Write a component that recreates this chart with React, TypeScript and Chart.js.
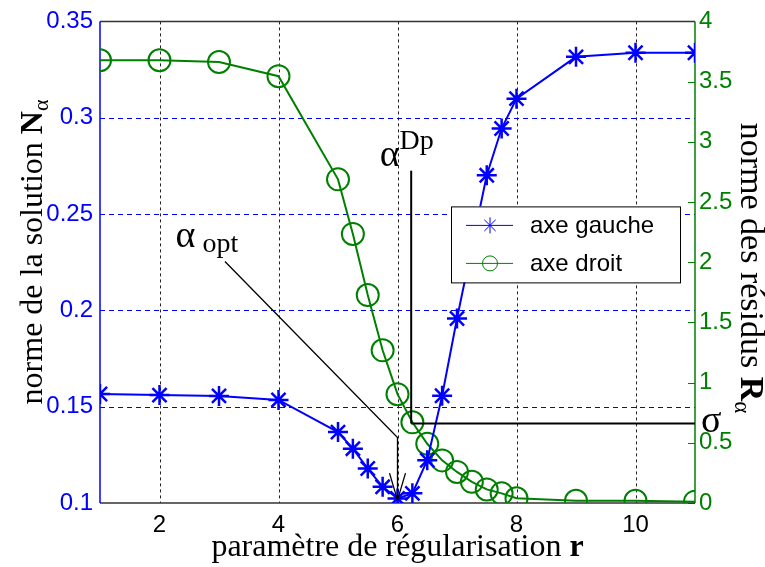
import React, { useEffect, useRef } from "react";
import { Chart, registerables } from "chart.js";

Chart.register(...registerables);

// ---- data ----
const R_LEFT = [1, 2, 3, 4, 5, 5.25, 5.5, 5.75, 6, 6.25, 6.5, 6.75, 7, 7.5, 7.75, 8, 9, 10, 11];
const N_ALPHA = [0.1566, 0.156, 0.1556, 0.1535, 0.1368, 0.1282, 0.1179, 0.1084, 0.1024, 0.105, 0.1222, 0.1557, 0.1958, 0.2701, 0.2944, 0.3099, 0.3316, 0.3337, 0.3337];
const R_RIGHT = [1, 2, 3, 4, 5, 5.25, 5.5, 5.75, 6, 6.25, 6.5, 6.75, 7, 7.25, 7.5, 7.75, 8, 9, 10, 11];
const R_RESID = [3.677, 3.677, 3.663, 3.545, 2.688, 2.235, 1.727, 1.268, 0.904, 0.67, 0.492, 0.354, 0.258, 0.176, 0.113, 0.08, 0.039, 0.019, 0.019, 0.011];

const X_TICKS = [2, 4, 6, 8, 10];
const LEFT_TICKS = [0.1, 0.15, 0.2, 0.25, 0.3, 0.35];
const RIGHT_TICKS = [0, 0.5, 1, 1.5, 2, 2.5, 3, 3.5, 4];

const LEGEND_LABELS = ["axe gauche", "axe droit"];

// annotations (data units)
const OPT_LABEL = { r: 2.27, n: 0.2331 };
const OPT_ARROW = [
  { r: 3.1, n: 0.2254 },
  { r: 6, n: 0.134 },
  { r: 6, n: 0.1015 },
];
const DP_LABEL = { r: 5.7, res: 2.8 };
const DP_R = 6.23;
const DP_TOP = 2.76;
const SIGMA = 0.66;

const BLUE = "#0000ff";
const GREEN = "#008000";
const SERIF = '"Liberation Serif", "Times New Roman", serif';
const SANS = '"Liberation Sans", Arial, sans-serif';

type Run = { t: string; font: string; dy?: number };

function drawRuns(ctx: CanvasRenderingContext2D, runs: Run[], x: number, y: number, align: "left" | "center") {
  let total = 0;
  const widths = runs.map((r) => {
    ctx.font = r.font;
    const w = ctx.measureText(r.t).width;
    total += w;
    return w;
  });
  let cx = align === "center" ? x - total / 2 : x;
  ctx.textAlign = "left";
  ctx.textBaseline = "alphabetic";
  runs.forEach((r, i) => {
    ctx.font = r.font;
    ctx.fillText(r.t, cx, y + (r.dy || 0));
    cx += widths[i];
  });
}

function line(ctx: CanvasRenderingContext2D, x1: number, y1: number, x2: number, y2: number) {
  ctx.beginPath();
  ctx.moveTo(x1, y1);
  ctx.lineTo(x2, y2);
  ctx.stroke();
}

const customDraw = {
  id: "customDraw",
  beforeDatasetsDraw(chart: any) {
    const { ctx, chartArea } = chart;
    const { left, right, top, bottom } = chartArea;
    const sx = chart.scales.x;
    const sl = chart.scales.y;
    const sr = chart.scales.y1;
    ctx.save();
    // vertical dotted grid
    ctx.strokeStyle = "#222";
    ctx.lineWidth = 1;
    ctx.setLineDash([3, 3]);
    X_TICKS.forEach((v) => {
      const px = Math.round(sx.getPixelForValue(v)) + 0.5;
      line(ctx, px, top, px, bottom);
    });
    // horizontal blue dashed grid (left axis)
    ctx.strokeStyle = BLUE;
    ctx.setLineDash([5, 4]);
    LEFT_TICKS.slice(1, -1).forEach((v) => {
      const py = Math.round(sl.getPixelForValue(v)) + 0.5;
      line(ctx, left, py, right, py);
    });
    ctx.setLineDash([]);
    // right axis inward ticks
    ctx.strokeStyle = GREEN;
    ctx.lineWidth = 1;
    RIGHT_TICKS.forEach((v) => {
      const py = Math.round(sr.getPixelForValue(v)) + 0.5;
      line(ctx, right - 7, py, right, py);
    });
    // box
    ctx.strokeStyle = "#333";
    ctx.lineWidth = 1.5;
    line(ctx, left, top, right, top);
    line(ctx, left, bottom, right, bottom);
    ctx.strokeStyle = BLUE;
    line(ctx, left, top, left, bottom);
    ctx.strokeStyle = GREEN;
    line(ctx, right, top, right, bottom);
    ctx.restore();
  },
  afterDatasetsDraw(chart: any) {
    const { ctx, chartArea } = chart;
    const { left, right, top } = chartArea;
    const sx = chart.scales.x;
    const sl = chart.scales.y;
    const sr = chart.scales.y1;
    ctx.save();
    ctx.fillStyle = "#000";
    ctx.strokeStyle = "#000";

    // alpha_opt arrow
    ctx.lineWidth = 1.3;
    const pts = OPT_ARROW.map((p) => [sx.getPixelForValue(p.r), sl.getPixelForValue(p.n)]);
    ctx.beginPath();
    ctx.moveTo(pts[0][0], pts[0][1]);
    pts.slice(1).forEach((p) => ctx.lineTo(p[0], p[1]));
    ctx.stroke();
    const tip = pts[pts.length - 1];
    line(ctx, tip[0] - 8, tip[1] - 27, tip[0], tip[1]);
    line(ctx, tip[0] + 8, tip[1] - 27, tip[0], tip[1]);

    drawRuns(
      ctx,
      [
        { t: "α", font: `38px ${SERIF}` },
        { t: " opt", font: `28px ${SERIF}`, dy: 5 },
      ],
      sx.getPixelForValue(OPT_LABEL.r),
      sl.getPixelForValue(OPT_LABEL.n),
      "left"
    );

    // alpha Dp / sigma lines
    ctx.lineWidth = 2;
    const dpx = sx.getPixelForValue(DP_R);
    const sy = sr.getPixelForValue(SIGMA);
    line(ctx, dpx, sr.getPixelForValue(DP_TOP), dpx, sy);
    line(ctx, dpx, sy, right, sy);

    drawRuns(
      ctx,
      [
        { t: "α", font: `38px ${SERIF}` },
        { t: "Dp", font: `28px ${SERIF}`, dy: -17 },
      ],
      sx.getPixelForValue(DP_LABEL.r),
      sr.getPixelForValue(DP_LABEL.res),
      "left"
    );

    // sigma label outside on the right axis
    drawRuns(ctx, [{ t: "σ", font: `38px ${SERIF}` }], right + 6, sy + 8, "left");

    // legend
    const lx0 = right - 244;
    const ly0 = top + 185;
    const lw = 229;
    const lh = 76;
    ctx.fillStyle = "#fff";
    ctx.fillRect(lx0, ly0, lw, lh);
    ctx.strokeStyle = "#000";
    ctx.lineWidth = 1;
    ctx.strokeRect(lx0 + 0.5, ly0 + 0.5, lw, lh);
    const rows = [ly0 + 19, ly0 + 57];
    const mx = lx0 + 39;
    ctx.strokeStyle = BLUE;
    ctx.lineWidth = 1;
    line(ctx, lx0 + 15, rows[0], lx0 + 62, rows[0]);
    const rs = 8;
    line(ctx, mx, rows[0] - rs, mx, rows[0] + rs);
    const d = rs * Math.SQRT1_2;
    line(ctx, mx - d, rows[0] - d, mx + d, rows[0] + d);
    line(ctx, mx - d, rows[0] + d, mx + d, rows[0] - d);
    ctx.strokeStyle = GREEN;
    line(ctx, lx0 + 15, rows[1], lx0 + 62, rows[1]);
    ctx.beginPath();
    ctx.arc(mx, rows[1], 7.5, 0, Math.PI * 2);
    ctx.stroke();
    ctx.fillStyle = "#000";
    ctx.font = `24px ${SANS}`;
    ctx.textBaseline = "middle";
    ctx.textAlign = "left";
    ctx.fillText(LEGEND_LABELS[0], lx0 + 79, rows[0] + 1);
    ctx.fillText(LEGEND_LABELS[1], lx0 + 79, rows[1] + 1);

    // axis titles
    ctx.fillStyle = "#000";
    drawRuns(
      ctx,
      [
        { t: "paramètre de régularisation ", font: `32px ${SERIF}` },
        { t: "r", font: `bold 32px ${SERIF}` },
      ],
      (left + right) / 2,
      556,
      "center"
    );
    ctx.save();
    ctx.translate(42, 252);
    ctx.rotate(-Math.PI / 2);
    drawRuns(
      ctx,
      [
        { t: "norme de la solution ", font: `32px ${SERIF}` },
        { t: "N", font: `bold 32px ${SERIF}` },
        { t: "α", font: `22px ${SERIF}`, dy: 6 },
      ],
      0,
      0,
      "center"
    );
    ctx.restore();
    ctx.save();
    ctx.translate(741, 268);
    ctx.rotate(Math.PI / 2);
    drawRuns(
      ctx,
      [
        { t: "norme des résidus ", font: `34px ${SERIF}` },
        { t: "R", font: `bold 34px ${SERIF}` },
        { t: "α", font: `23px ${SERIF}`, dy: 6 },
      ],
      0,
      0,
      "center"
    );
    ctx.restore();

    ctx.restore();
  },
};

function fmt(v: number) {
  return String(Math.round(v * 100) / 100);
}

export default function App() {
  const ref = useRef<HTMLCanvasElement>(null);
  useEffect(() => {
    document.body.style.margin = "0";
    const chart = new Chart(ref.current as HTMLCanvasElement, {
      type: "line",
      data: {
        datasets: [
          {
            label: LEGEND_LABELS[0],
            data: R_LEFT.map((r, i) => ({ x: r, y: N_ALPHA[i] })),
            yAxisID: "y",
            borderColor: BLUE,
            borderWidth: 2,
            pointStyle: "star",
            pointRadius: 10,
            pointBorderWidth: 2.5,
            pointBorderColor: BLUE,
            pointBackgroundColor: BLUE,
            tension: 0,
          },
          {
            label: LEGEND_LABELS[1],
            data: R_RIGHT.map((r, i) => ({ x: r, y: R_RESID[i] })),
            yAxisID: "y1",
            borderColor: GREEN,
            borderWidth: 2,
            pointStyle: "circle",
            pointRadius: 11,
            pointBorderWidth: 2,
            pointBorderColor: GREEN,
            pointBackgroundColor: "rgba(0,0,0,0)",
            tension: 0,
          },
        ],
      },
      options: {
        animation: false,
        responsive: false,
        devicePixelRatio: 1,
        layout: { padding: { top: 18, left: 0, right: 0, bottom: 0 } },
        plugins: { legend: { display: false }, tooltip: { enabled: false } },
        events: [],
        scales: {
          x: {
            type: "linear",
            position: "bottom",
            min: 1,
            max: 11,
            grid: { display: false, drawTicks: false },
            border: { display: false },
            afterBuildTicks: (s: any) => {
              s.ticks = X_TICKS.map((v) => ({ value: v }));
            },
            afterFit: (s: any) => {
              s.height = 64;
            },
            ticks: {
              color: "#000",
              padding: 8,
              font: { family: SANS, size: 24 },
              callback: (v: any) => fmt(Number(v)),
              maxRotation: 0,
              autoSkip: false,
            },
          },
          y: {
            type: "linear",
            position: "left",
            min: 0.1,
            max: 0.35,
            grid: { display: false, drawTicks: false },
            border: { display: false },
            afterBuildTicks: (s: any) => {
              s.ticks = LEFT_TICKS.map((v) => ({ value: v }));
            },
            afterFit: (s: any) => {
              s.width = 100;
            },
            ticks: {
              color: BLUE,
              padding: 7,
              font: { family: SANS, size: 24 },
              callback: (v: any) => fmt(Number(v)),
              autoSkip: false,
            },
          },
          y1: {
            type: "linear",
            position: "right",
            min: 0,
            max: 4,
            grid: { display: false, drawTicks: false },
            border: { display: false },
            afterBuildTicks: (s: any) => {
              s.ticks = RIGHT_TICKS.map((v) => ({ value: v }));
            },
            afterFit: (s: any) => {
              s.width = 70;
            },
            ticks: {
              color: GREEN,
              padding: 4,
              font: { family: SANS, size: 24 },
              callback: (v: any) => fmt(Number(v)),
              autoSkip: false,
            },
          },
        },
      },
      plugins: [customDraw],
    } as any);
    return () => chart.destroy();
  }, []);
  return <canvas ref={ref} width={765} height={567} style={{ display: "block" }} />;
}
